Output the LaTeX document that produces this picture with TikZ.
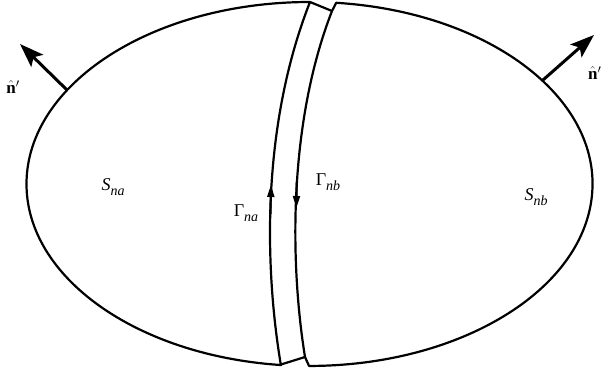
\documentclass[tikz,border=0pt]{standalone}
\usepackage{fontspec}
\setmainfont{Liberation Serif}
\usetikzlibrary{arrows.meta}
\tikzset{
  outline/.style={line width=2.2pt, line join=round, line cap=round},
  flowarrow/.style={line width=2pt, -{Triangle[length=12pt,width=7pt]}},
  normalarrow/.style={line width=3pt, -{Stealth[length=24pt,width=17pt,inset=5pt]}},
  lbl/.style={inner sep=0pt, font=\fontsize{18}{20}\selectfont},
  nlbl/.style={inner sep=0pt, font=\fontsize{17}{18}\selectfont}
}
\newcommand{\sub}[1]{\raisebox{-4.5pt}{\fontsize{14}{14}\selectfont\itshape #1}}
\begin{document}
\begin{tikzpicture}[x=1pt,y=1pt]
\useasboundingbox (0,0) rectangle (601,374);
\coordinate (tl) at (310,372);
\coordinate (tr) at (332,363);
\coordinate (trr) at (336.2,371.2);
\coordinate (bL) at (279.4,9);
\coordinate (bR) at (305,17);
% left piece
\draw[outline] (tl) arc[start angle=90,end angle=264.1,x radius=283.5pt,y radius=182pt]
  .. controls (264,110) and (262,250) .. (tl) -- cycle;
% right piece
\draw[outline] (bR) .. controls (290,110) and (288,250) .. (tr)
  -- (trr) arc[start angle=84.5,end angle=-90,x radius=283.5pt,y radius=182pt] -- cycle;
% gap ties
\draw[outline] (tl) -- (tr);
\draw[outline] (bL) -- (bR);
% flow arrows on the cuts
\coordinate (ga0) at (270.6,160);
\coordinate (ga1) at (270.9,189);
\draw[flowarrow] (ga0) -- (ga1);
\coordinate (gb0) at (296.6,192);
\coordinate (gb1) at (296.4,166);
\draw[flowarrow] (gb0) -- (gb1);
% normals
\coordinate (nl0) at (67,284);
\coordinate (nl1) at (20,330);
\draw[normalarrow] (nl0) -- (nl1);
\coordinate (nr0) at (543,294);
\coordinate (nr1) at (594,339);
\draw[normalarrow] (nr0) -- (nr1);
% labels
\node[nlbl] (nhl) at (13,287) {$\hat{\mathbf{n}}'$};
\node[nlbl,anchor=west] (nhr) at (588,301) {$\hat{\mathbf{n}}'$};
\node[lbl] (sna) at (113,187) {\itshape S\sub{na}};
\node[lbl] (snb) at (536,177) {\itshape S\sub{nb}};
\node[lbl] (gna) at (246,161) {Γ\sub{na}};
\node[lbl] (gnb) at (328,192) {Γ\sub{nb}};
\end{tikzpicture}
\end{document}
